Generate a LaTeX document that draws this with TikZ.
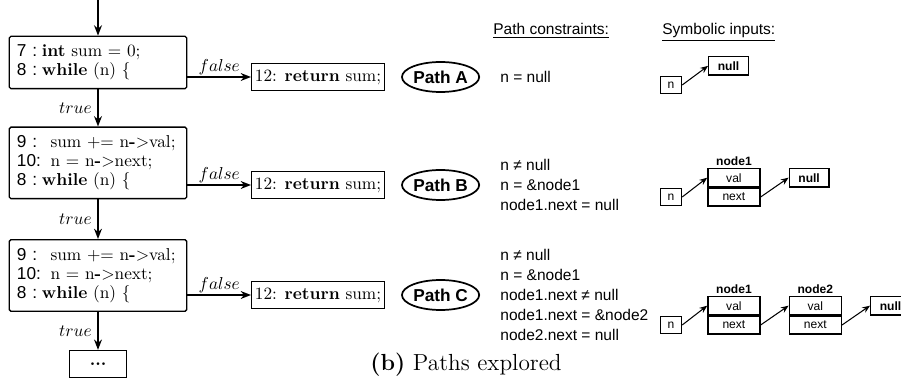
\documentclass[tikz,border=0pt]{standalone}
\usepackage{fontspec}
\setsansfont{Liberation Sans}
\usepackage{tikz}
\usetikzlibrary{shapes.geometric, arrows.meta, positioning, calc}
\newcommand{\headline}[1]{\makebox[14.5pt][l]{\textsf{#1}}}
\newcommand{\bodyline}[1]{\makebox[19.5pt][l]{\textsf{#1}}}
\newcommand{\deref}[2]{\mbox{#1\textbf{-}$>$#2}}
\tikzset{
    codeblock/.style={rectangle, draw=black, rounded corners=1pt, line width=0.8pt, align=left, text width=94pt, minimum width=103pt, inner xsep=4.5pt, inner ysep=5pt, font=\fontsize{10}{11}\selectfont},
    retblock/.style={rectangle, draw=black, line width=0.6pt, inner xsep=2pt, inner ysep=2pt, minimum height=15.7pt, font=\fontsize{10}{12}\selectfont},
    dotsblock/.style={rectangle, draw=black, line width=0.8pt, minimum width=33pt, minimum height=16pt, inner sep=0pt, font=\bfseries\fontsize{10}{12}\selectfont},
    pathlabel/.style={ellipse, draw=black, line width=1pt, minimum width=44.7pt, minimum height=17.4pt, inner sep=0pt, font=\sffamily\bfseries\fontsize{10}{12}\selectfont},
    constraints/.style={anchor=west, align=left, inner sep=0pt, font=\sffamily\fontsize{9}{11.6}\selectfont},
    heading/.style={anchor=base west, inner sep=0pt, font=\sffamily\fontsize{9}{11}\selectfont},
    ptrbox/.style={rectangle, draw=black, line width=0.8pt, minimum width=12.2pt, minimum height=9.9pt, inner sep=0pt, font=\sffamily\fontsize{7}{8}\selectfont},
    nullbox/.style={ptrbox, minimum width=23pt, minimum height=10.7pt, font=\sffamily\bfseries\fontsize{7}{8}\selectfont},
    field/.style={ptrbox, minimum width=30.2pt, minimum height=10.4pt},
    fieldtag/.style={inner sep=1pt, font=\sffamily\bfseries\fontsize{7}{8}\selectfont},
    arrow/.style={line width=0.8pt, -{Stealth[length=6pt, width=4.6pt]}},
    ptr/.style={line width=0.6pt, -{Stealth[length=4.5pt, width=3.6pt]}}
}
\begin{document}
\begin{tikzpicture}[x=0.58pt, y=-0.58pt]
    \useasboundingbox (0,0) rectangle (901,378);

    % Code blocks
    \node (code1) [codeblock] at (98,62.5) {\headline{7 :}\textbf{int} sum $=$ 0;\\ \headline{8 :}\textbf{while} (n) \{};
    \node (code2) [codeblock, below=21.5pt of code1] {\bodyline{9 :}sum $+$$=$ \deref{n}{val};\\ \bodyline{10:}n $=$ \deref{n}{next};\\ \headline{8 :}\textbf{while} (n) \{};
    \node (code3) [codeblock, below=23pt of code2] {\bodyline{9 :}sum $+$$=$ \deref{n}{val};\\ \bodyline{10:}n $=$ \deref{n}{next};\\ \headline{8 :}\textbf{while} (n) \{};
    \node (more) [dotsblock, below=22pt of code3] {...};
    \coordinate [above=20.9pt of code1] (entry);

    % Exits and paths
    \node (ret1) [retblock, anchor=west] at (251,77) {12: \textbf{return} sum;};
    \node (ret2) [retblock, anchor=west] at (251,185) {12: \textbf{return} sum;};
    \node (ret3) [retblock, anchor=west] at (251,295) {12: \textbf{return} sum;};
    \node (pathA) [pathlabel, right=9.3pt of ret1] {Path A};
    \node (pathB) [pathlabel, right=9.3pt of ret2] {Path B};
    \node (pathC) [pathlabel, right=9.3pt of ret3] {Path C};

    % Path constraints
    \node (headcons) [heading] at (493,35) {\underline{Path constraints:}};
    \node (consA) [constraints, right=11.6pt of pathA] {n = null};
    \node (consB) [constraints, right=11.6pt of pathB] {n ≠ null\\ n = \&node1\\ node1.next = null};
    \node (consC) [constraints, right=11.6pt of pathC] {n ≠ null\\ n = \&node1\\ node1.next ≠ null\\ node1.next = \&node2\\ node2.next = null};

    % Symbolic inputs
    \node (headsym) [heading] at (662,35) {\underline{Symbolic inputs:}};
    \node (nA) [ptrbox] at (671,85) {n};
    \node (nullA) [nullbox, above right=0pt and 15pt of nA] {null};

    \node (nB) [ptrbox] at (671,197) {n};
    \node (nextB) [field, right=14.5pt of nB] {next};
    \node (valB) [field, above=0pt of nextB] {val};
    \node (tagB) [fieldtag, above=0pt of valB] {node1};
    \node (nullB) [nullbox, right=16.2pt of valB] {null};

    \node (nC) [ptrbox] at (671,325) {n};
    \node (nextC1) [field, right=14.5pt of nC] {next};
    \node (valC1) [field, above=0pt of nextC1] {val};
    \node (tagC1) [fieldtag, above=0pt of valC1] {node1};
    \node (nextC2) [field, right=16.2pt of nextC1] {next};
    \node (valC2) [field, above=0pt of nextC2] {val};
    \node (tagC2) [fieldtag, above=0pt of valC2] {node2};
    \node (nullC) [nullbox, right=16.2pt of valC2] {null};

    \node (caption) at (466,365) {\fontsize{13.5}{16}\selectfont\textbf{(b)} Paths explored};

    % Arrows
    \draw [arrow] (entry) -- (code1);
    \draw [arrow] (code1) -- node[left] {$true$} (code2);
    \draw [arrow] (code2) -- node[left] {$true$} (code3);
    \draw [arrow] (code3) -- node[left] {$true$} (more);

    \draw [arrow] (code1.east |- ret1) -- node[above, inner sep=1pt] {$false$} (ret1);
    \draw [arrow] (code2.east |- ret2) -- node[above, inner sep=1pt] {$false$} (ret2);
    \draw [arrow] (code3.east |- ret3) -- node[above, inner sep=1pt] {$false$} (ret3);

    \draw [ptr] (nA.east) -- (nullA.west);
    \draw [ptr] (nB.east) -- (valB.west);
    \draw [ptr] (nextB.east) -- (nullB.west);
    \draw [ptr] (nC.east) -- (valC1.west);
    \draw [ptr] (nextC1.east) -- (valC2.west);
    \draw [ptr] (nextC2.east) -- (nullC.west);
\end{tikzpicture}
\end{document}
